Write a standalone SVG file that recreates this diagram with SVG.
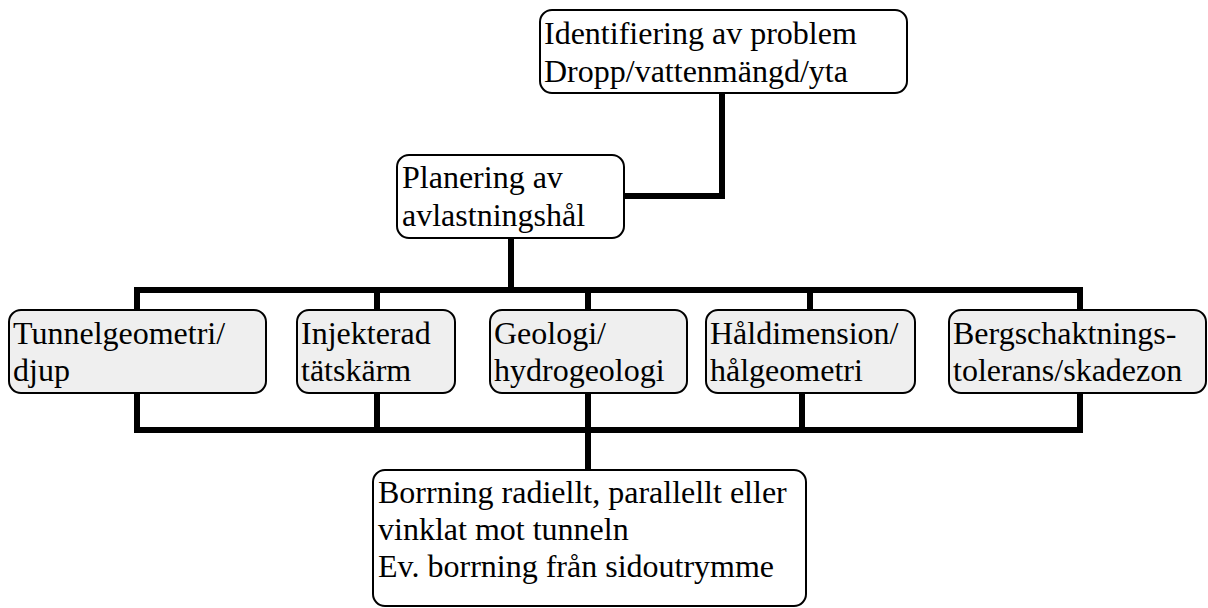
<svg xmlns="http://www.w3.org/2000/svg" width="1208" height="608" viewBox="0 0 1208 608">
<defs>
<style>
.box{fill:#ffffff;stroke:#000;stroke-width:2}
.gbox{fill:#efefef;stroke:#000;stroke-width:2}
.c{fill:none;stroke:#000;stroke-width:6;stroke-linecap:square;stroke-linejoin:miter}
</style>
</defs>
<rect width="1208" height="608" fill="#fff"/>
<g id="connectors">
<polyline class="c" points="722,93 722,196 624,196"/>
<line class="c" x1="511" y1="238" x2="511" y2="290"/>
<line class="c" x1="137" y1="290" x2="1080" y2="290"/>
<line class="c" x1="137" y1="290" x2="137" y2="310"/>
<line class="c" x1="377" y1="290" x2="377" y2="310"/>
<line class="c" x1="588" y1="290" x2="588" y2="310"/>
<line class="c" x1="810" y1="290" x2="810" y2="310"/>
<line class="c" x1="1080" y1="290" x2="1080" y2="310"/>
<line class="c" x1="137" y1="394" x2="137" y2="430"/>
<line class="c" x1="377" y1="394" x2="377" y2="430"/>
<line class="c" x1="588" y1="394" x2="588" y2="470"/>
<line class="c" x1="802" y1="394" x2="802" y2="430"/>
<line class="c" x1="1080" y1="394" x2="1080" y2="430"/>
<line class="c" x1="137" y1="430" x2="1080" y2="430"/>
</g>
<g id="identifiering">
<rect class="box" x="540" y="10" width="367" height="83" rx="12"/>
<text font-family="Liberation Serif" font-size="32" x="544" y="44">Identifiering av problem</text>
<text font-family="Liberation Serif" font-size="32" x="544" y="82">Dropp/vattenmängd/yta</text>
</g>
<g id="planering">
<rect class="box" x="397" y="155" width="227" height="83" rx="12"/>
<text font-family="Liberation Serif" font-size="32" x="402" y="188">Planering av</text>
<text font-family="Liberation Serif" font-size="32" x="402" y="226">avlastningshål</text>
</g>
<g id="tunnelgeometri">
<rect class="gbox" x="9" y="310" width="257" height="83" rx="12"/>
<text font-family="Liberation Serif" font-size="32" x="13" y="344">Tunnelgeometri/</text>
<text font-family="Liberation Serif" font-size="32" x="13" y="381">djup</text>
</g>
<g id="injekterad">
<rect class="gbox" x="297" y="310" width="158" height="83" rx="12"/>
<text font-family="Liberation Serif" font-size="32" x="301" y="344">Injekterad</text>
<text font-family="Liberation Serif" font-size="32" x="301" y="381">tätskärm</text>
</g>
<g id="geologi">
<rect class="gbox" x="490" y="310" width="197" height="83" rx="12"/>
<text font-family="Liberation Serif" font-size="32" x="494" y="344">Geologi/</text>
<text font-family="Liberation Serif" font-size="32" x="494" y="381">hydrogeologi</text>
</g>
<g id="haldimension">
<rect class="gbox" x="706" y="310" width="209" height="83" rx="12"/>
<text font-family="Liberation Serif" font-size="32" x="710" y="344">Håldimension/</text>
<text font-family="Liberation Serif" font-size="32" x="710" y="381">hålgeometri</text>
</g>
<g id="bergschaktning">
<rect class="gbox" x="949" y="310" width="257" height="83" rx="12"/>
<text font-family="Liberation Serif" font-size="32" x="953" y="344">Bergschaktnings-</text>
<text font-family="Liberation Serif" font-size="32" x="953" y="381">tolerans/skadezon</text>
</g>
<g id="borrning">
<rect class="box" x="373" y="470" width="433" height="136" rx="12"/>
<text font-family="Liberation Serif" font-size="32" x="378" y="503">Borrning radiellt, parallellt eller</text>
<text font-family="Liberation Serif" font-size="32" x="378" y="540">vinklat mot tunneln</text>
<text font-family="Liberation Serif" font-size="32" x="378" y="577">Ev. borrning från sidoutrymme</text>
</g>
</svg>
